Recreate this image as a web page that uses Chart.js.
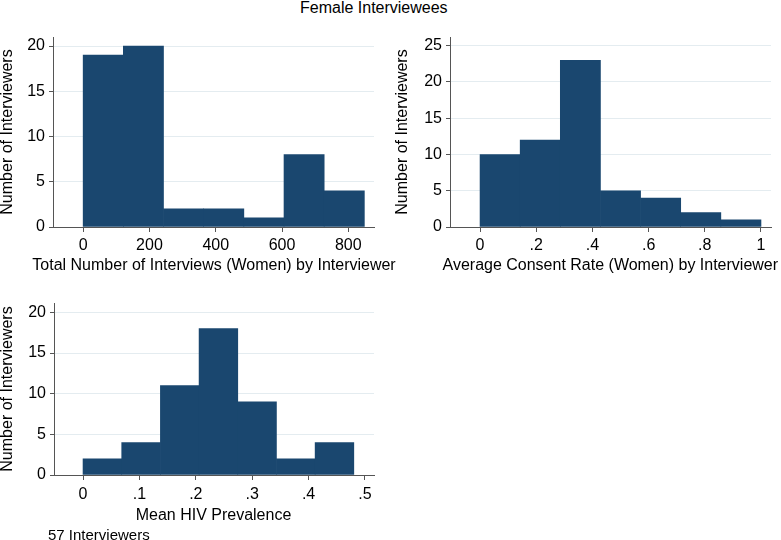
<!DOCTYPE html>
<html>
<head>
<meta charset="utf-8">
<script src="https://cdn.jsdelivr.net/npm/chart.js@4.4.1/dist/chart.umd.min.js"></script>
<style>
  html, body { margin: 0; padding: 0; background: #fff; }
  body { width: 781px; height: 540px; overflow: hidden; position: relative;
         font-family: "Liberation Sans", Arial, Helvetica, sans-serif; }
  canvas { position: absolute; }
  .txt { position: absolute; white-space: nowrap; color: #000; }
  .ctr { transform: translateX(-50%); }
</style>
</head>
<body>
<div class="txt" id="mainTitle" style="left:300px; top:0px; font-size:16px; line-height:16px;"></div>
<canvas id="c1" width="392" height="280" style="left:-2px; top:0px;"></canvas>
<canvas id="c2" width="391" height="280" style="left:390px; top:0px;"></canvas>
<canvas id="c3" width="392" height="255" style="left:-2px; top:270px;"></canvas>
<div class="txt ctr" id="xt1" style="left:214px; top:257.2px; font-size:16px; line-height:16px;"></div>
<div class="txt ctr" id="xt2" style="left:610.3px; top:257.2px; font-size:16px; line-height:16px;"></div>
<div class="txt ctr" id="xt3" style="left:213.5px; top:507.2px; font-size:16px; line-height:16px;"></div>
<div class="txt" id="note" style="left:48px; top:527px; font-size:15px; line-height:15px;"></div>
<script>
// ---------------- data ----------------
const chartTitle = 'Female Interviewees';
const noteText = '57 Interviewers';
const yAxisTitle = 'Number of Interviewers';

// Panel 1: total number of interviews
const interviewsTitle = 'Total Number of Interviews (Women) by Interviewer';
const interviewsBinStart = 0;
const interviewsBinWidth = 121.2;
const interviewsCounts = [19, 20, 2, 2, 1, 8, 4];
const interviewsXTicks = [0, 200, 400, 600, 800];
const interviewsXLabels = ['0', '200', '400', '600', '800'];
const interviewsYTicks = [0, 5, 10, 15, 20];

// Panel 2: average consent rate
const consentTitle = 'Average Consent Rate (Women) by Interviewer';
const consentBinStart = 0;
const consentBinWidth = 1 / 7;
const consentCounts = [10, 12, 23, 5, 4, 2, 1];
const consentXTicks = [0, 0.2, 0.4, 0.6, 0.8, 1];
const consentXLabels = ['0', '.2', '.4', '.6', '.8', '1'];
const consentYTicks = [0, 5, 10, 15, 20, 25];

// Panel 3: mean HIV prevalence
const hivTitle = 'Mean HIV Prevalence';
const hivBinStart = 0;
const hivBinWidth = 0.0686;
const hivCounts = [2, 4, 11, 18, 9, 2, 4];
const hivXTicks = [0, 0.1, 0.2, 0.3, 0.4, 0.5];
const hivXLabels = ['0', '.1', '.2', '.3', '.4', '.5'];
const hivYTicks = [0, 5, 10, 15, 20];

// ---------------- drawing ----------------
document.getElementById('mainTitle').textContent = chartTitle;
document.getElementById('note').textContent = noteText;
document.getElementById('xt1').textContent = interviewsTitle;
document.getElementById('xt2').textContent = consentTitle;
document.getElementById('xt3').textContent = hivTitle;

const FONT = '"Liberation Sans", Arial, Helvetica, sans-serif';
Chart.defaults.font.family = FONT;
Chart.defaults.color = '#000';

const BAR = '#1a476f';
const GRID = '#e4ecf0';
const AXIS = '#555555';

function histogram(id, cfg) {
  const points = cfg.counts.map((c, i) => ({ x: cfg.binStart + (i + 0.5) * cfg.binWidth, y: c }));
  return new Chart(document.getElementById(id), {
    type: 'bar',
    data: {
      datasets: [{
        label: cfg.xTitle,
        data: points,
        backgroundColor: BAR,
        borderWidth: 0,
        barPercentage: 1,
        categoryPercentage: 1
      }]
    },
    options: {
      responsive: false,
      animation: false,
      devicePixelRatio: 1,
      layout: { padding: { top: cfg.padTop, right: cfg.padRight, left: 0, bottom: 0 } },
      plugins: { legend: { display: false }, tooltip: { enabled: false } },
      scales: {
        x: {
          type: 'linear',
          min: cfg.xMin, max: cfg.xMax,
          offset: false,
          afterBuildTicks: s => { s.ticks = cfg.xTicks.map(v => ({ value: v })); },
          afterFit: s => { s.height = cfg.xHeight; },
          ticks: {
            callback: (v, i) => cfg.xLabels[i],
            font: { size: 16 }, color: '#000',
            padding: cfg.xTickPad, maxRotation: 0, autoSkip: false
          },
          grid: { display: true, drawOnChartArea: false, drawTicks: true, tickLength: 5,
                  tickColor: AXIS, tickWidth: 1, offset: false },
          border: { display: true, color: AXIS, width: 1, z: 1 },
          title: { display: false }
        },
        y: {
          type: 'linear',
          min: 0, max: cfg.yMax,
          afterBuildTicks: s => { s.ticks = cfg.yTicks.map(v => ({ value: v })); },
          afterFit: s => { s.width = cfg.yWidth; },
          ticks: { font: { size: 16 }, color: '#000', padding: 4 },
          grid: { display: true, color: GRID, lineWidth: 1, drawTicks: true, tickLength: 4,
                  tickColor: AXIS, tickWidth: 1 },
          border: { display: true, color: AXIS, width: 1, z: 1 },
          title: { display: true, text: yAxisTitle, font: { size: 16 }, color: '#000',
                   padding: { top: cfg.yTitlePad, bottom: 0 } }
        }
      }
    }
  });
}

histogram('c1', {
  binStart: interviewsBinStart, binWidth: interviewsBinWidth, counts: interviewsCounts,
  xTicks: interviewsXTicks, xLabels: interviewsXLabels, yTicks: interviewsYTicks,
  xTitle: interviewsTitle,
  xMin: -91, xMax: 877.5, yMax: 21,
  padTop: 37, padRight: 16, yWidth: 55, xHeight: 53,
  xTickPad: 3.5, yTitlePad: 0
});

histogram('c2', {
  binStart: consentBinStart, binWidth: consentBinWidth, counts: consentCounts,
  xTicks: consentXTicks, xLabels: consentXLabels, yTicks: consentYTicks,
  xTitle: consentTitle,
  xMin: -0.107, xMax: 1.0357, yMax: 26.2,
  padTop: 37, padRight: 10, yWidth: 60, xHeight: 53,
  xTickPad: 3.5, yTitlePad: 3
});

histogram('c3', {
  binStart: hivBinStart, binWidth: hivBinWidth, counts: hivCounts,
  xTicks: hivXTicks, xLabels: hivXLabels, yTicks: hivYTicks,
  xTitle: hivTitle,
  xMin: -0.0515, xMax: 0.516, yMax: 21.15,
  padTop: 33, padRight: 16, yWidth: 56, xHeight: 50,
  xTickPad: 5, yTitlePad: 0
});
</script>
</body>
</html>
